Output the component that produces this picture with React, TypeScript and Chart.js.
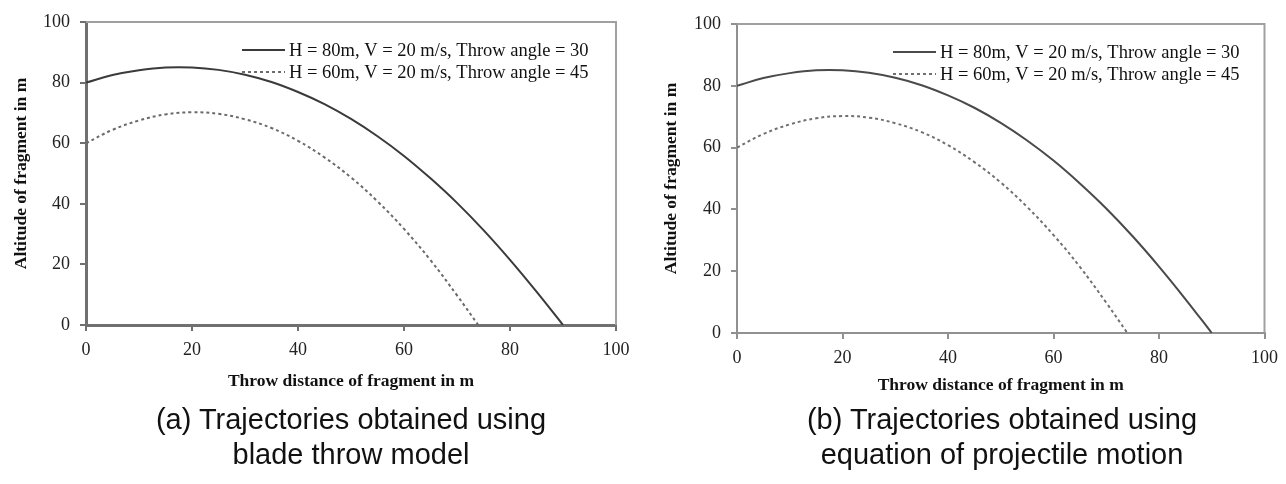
import React, { useEffect, useRef } from "react";
import { Chart, registerables } from "chart.js";

Chart.register(...registerables);

// ---- data ----
const axisTicks = [0, 20, 40, 60, 80, 100];

const distance80 = [0, 5, 10, 15, 20, 25, 30, 35, 40, 45, 50, 55, 60, 65, 70, 75, 80, 85, 90];
const altitude80 = [80, 82.5, 84.1, 85.0, 85.0, 84.2, 82.6, 80.2, 76.9, 72.9, 68.0, 62.3, 55.8, 48.4, 40.3, 31.3, 21.5, 11.0, 0];

const distance60 = [0, 5, 10, 15, 20, 25, 30, 35, 40, 45, 50, 55, 60, 65, 70, 74];
const altitude60 = [60, 64.4, 67.5, 69.5, 70.2, 69.7, 67.9, 65.0, 60.8, 55.3, 48.7, 40.8, 31.7, 21.4, 9.8, 0];

const seriesLabels = [
  "H = 80m, V = 20 m/s, Throw angle = 30",
  "H = 60m, V = 20 m/s, Throw angle = 45",
];
const xAxisTitle = "Throw distance of fragment in m";
const yAxisTitle = "Altitude of fragment in m";
const captionA = ["(a) Trajectories obtained using", "blade throw model"];
const captionB = ["(b) Trajectories obtained using", "equation of projectile motion"];

type Look = {
  padRight: number;
  padTop: number;
  yWidth: number;
  xHeight: number;
  chartBottom: number;
  yTitlePad: number;
  xTitlePad: number;
  axisColor: string;
  axisWidth: number;
  boxColor: string;
  boxWidth: number;
  solidColor: string;
  dotColor: string;
};

const CANVAS_W = 643;
const CANVAS_H = 484;

const boxPlugin = {
  id: "plotBox",
  beforeDatasetsDraw(chart: any, _args: any, opts: any) {
    const { ctx, chartArea } = chart;
    ctx.save();
    ctx.strokeStyle = opts.color;
    ctx.lineWidth = opts.width;
    ctx.beginPath();
    ctx.moveTo(chartArea.left, chartArea.top);
    ctx.lineTo(chartArea.right, chartArea.top);
    ctx.lineTo(chartArea.right, chartArea.bottom);
    ctx.stroke();
    ctx.restore();
  },
};

const insideLegend = {
  id: "insideLegend",
  afterDatasetsDraw(chart: any, _args: any, opts: any) {
    const { ctx, chartArea } = chart;
    chart.data.datasets.forEach((ds: any, i: number) => {
      const y = chartArea.top + opts.rowTop + i * opts.rowGap;
      const x0 = chartArea.left + opts.lineStart;
      const x1 = x0 + opts.lineLength;
      ctx.save();
      ctx.strokeStyle = ds.borderColor;
      ctx.lineWidth = ds.borderWidth;
      ctx.setLineDash(ds.borderDash || []);
      ctx.beginPath();
      ctx.moveTo(x0, y);
      ctx.lineTo(x1, y);
      ctx.stroke();
      ctx.setLineDash([]);
      ctx.fillStyle = opts.color;
      ctx.font = opts.font;
      ctx.textBaseline = "middle";
      ctx.textAlign = "left";
      ctx.fillText(ds.label, x1 + opts.gap, y + 1);
      ctx.restore();
    });
  },
};

function TrajectoryChart({ look }: { look: Look }) {
  const ref = useRef<HTMLCanvasElement | null>(null);
  useEffect(() => {
    if (!ref.current) return;
    const tickFont = { family: "'Liberation Serif', 'Times New Roman', serif", size: 18 };
    const titleFont = { family: "'Liberation Serif', 'Times New Roman', serif", size: 17.5, weight: "bold" as const };
    const chart = new Chart(ref.current, {
      type: "line",
      data: {
        datasets: [
          {
            label: seriesLabels[0],
            data: distance80.map((x, i) => ({ x, y: altitude80[i] })),
            borderColor: look.solidColor,
            borderWidth: 2,
            pointRadius: 0,
            tension: 0.4,
            fill: false,
          },
          {
            label: seriesLabels[1],
            data: distance60.map((x, i) => ({ x, y: altitude60[i] })),
            borderColor: look.dotColor,
            borderWidth: 2,
            borderDash: [3, 3],
            pointRadius: 0,
            tension: 0.4,
            fill: false,
          },
        ],
      },
      options: {
        animation: false,
        responsive: false,
        devicePixelRatio: 1,
        layout: {
          padding: {
            left: 0,
            right: look.padRight,
            top: look.padTop,
            bottom: CANVAS_H - look.chartBottom - look.xHeight,
          },
        },
        plugins: {
          legend: { display: false },
          tooltip: { enabled: false },
          plotBox: { color: look.boxColor, width: look.boxWidth },
          insideLegend: {
            rowTop: 28,
            rowGap: 22,
            lineStart: 156,
            lineLength: 43,
            gap: 4,
            color: "#111",
            font: "18.5px 'Liberation Serif', 'Times New Roman', serif",
          },
        } as any,
        scales: {
          x: {
            type: "linear",
            min: axisTicks[0],
            max: axisTicks[axisTicks.length - 1],
            afterBuildTicks: (s: any) => {
              s.ticks = axisTicks.map((v) => ({ value: v }));
            },
            afterFit: (s: any) => {
              s.height = look.xHeight;
            },
            ticks: { font: tickFont, color: "#222", padding: 8, maxRotation: 0 },
            grid: {
              display: true,
              drawOnChartArea: false,
              drawTicks: true,
              tickLength: 6,
              color: look.axisColor,
              lineWidth: 2,
            },
            border: { display: true, color: look.axisColor, width: look.axisWidth },
            title: {
              display: true,
              text: xAxisTitle,
              font: titleFont,
              color: "#111",
              padding: { top: 0, bottom: look.xTitlePad },
            },
          },
          y: {
            type: "linear",
            min: axisTicks[0],
            max: axisTicks[axisTicks.length - 1],
            afterBuildTicks: (s: any) => {
              s.ticks = axisTicks.map((v) => ({ value: v }));
            },
            afterFit: (s: any) => {
              s.width = look.yWidth;
            },
            ticks: { font: tickFont, color: "#222", padding: 10 },
            grid: {
              display: true,
              drawOnChartArea: false,
              drawTicks: true,
              tickLength: 6,
              color: look.axisColor,
              lineWidth: 2,
            },
            border: { display: true, color: look.axisColor, width: look.axisWidth },
            title: {
              display: true,
              text: yAxisTitle,
              font: titleFont,
              color: "#111",
              padding: { top: look.yTitlePad, bottom: 0 },
            },
          },
        },
      },
      plugins: [boxPlugin, insideLegend],
    });
    return () => chart.destroy();
  }, [look]);
  return <canvas ref={ref} width={CANVAS_W} height={CANVAS_H} style={{ display: "block" }} />;
}

const lookA: Look = {
  padRight: 27,
  padTop: 22,
  yWidth: 86,
  xHeight: 80,
  chartBottom: 325,
  yTitlePad: 11,
  xTitlePad: 13,
  axisColor: "#707070",
  axisWidth: 3,
  boxColor: "#a0a0a0",
  boxWidth: 2,
  solidColor: "#3a3a3a",
  dotColor: "#6a6a6a",
};

const lookB: Look = {
  padRight: 19,
  padTop: 24,
  yWidth: 94,
  xHeight: 80,
  chartBottom: 333,
  yTitlePad: 18,
  xTitlePad: 17,
  axisColor: "#909090",
  axisWidth: 2,
  boxColor: "#a0a0a0",
  boxWidth: 2,
  solidColor: "#4a4a4a",
  dotColor: "#707070",
};

const captionStyle: React.CSSProperties = {
  position: "absolute",
  width: 600,
  textAlign: "center",
  fontFamily: "'Liberation Sans', Arial, sans-serif",
  fontSize: 29,
  lineHeight: "35px",
  color: "#111",
};

export default function App() {
  return (
    <div style={{ position: "absolute", left: 0, top: 0, width: 1286, height: 484, background: "#fff", overflow: "hidden" }}>
      <div style={{ position: "absolute", left: 0, top: 0 }}>
        <TrajectoryChart look={lookA} />
      </div>
      <div style={{ position: "absolute", left: CANVAS_W, top: 0 }}>
        <TrajectoryChart look={lookB} />
      </div>
      <div style={{ ...captionStyle, left: 51, top: 402 }}>
        {captionA.map((t) => (
          <div key={t}>{t}</div>
        ))}
      </div>
      <div style={{ ...captionStyle, left: 702, top: 402 }}>
        {captionB.map((t) => (
          <div key={t}>{t}</div>
        ))}
      </div>
    </div>
  );
}
